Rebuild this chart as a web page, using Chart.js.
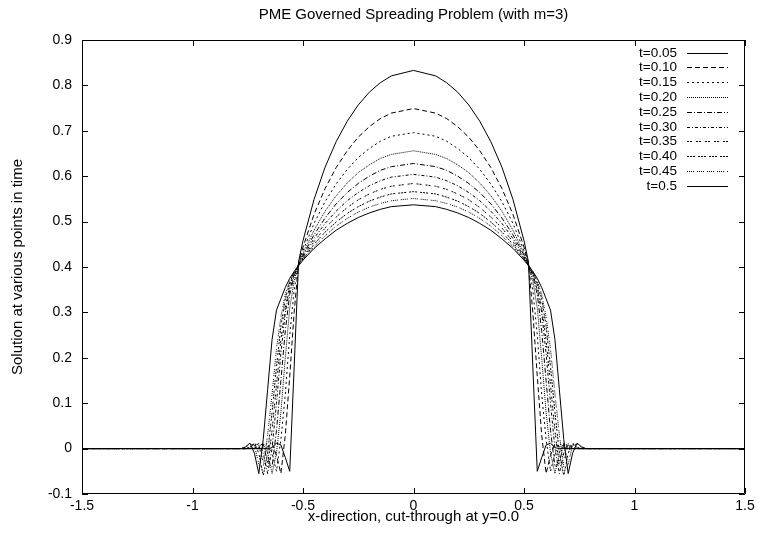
<!DOCTYPE html>
<html>
<head>
<meta charset="utf-8">
<script src="https://cdn.jsdelivr.net/npm/chart.js@4.4.1/dist/chart.umd.min.js"></script>
<style>
    html, body { margin: 0; padding: 0; background: #fff; }
</style>
</head>
<body>
<canvas id="chart" width="760" height="534"></canvas>
<script>
// PME spreading problem (m=3): cross-sections at y=0.0 for ten times.

const xs = [-1.5, -0.8, -0.78, -0.76, -0.74, -0.72, -0.7, -0.68, -0.66, -0.64, -0.62, -0.6, -0.58, -0.56, -0.54, -0.52, -0.5,
    -0.45, -0.4, -0.35, -0.3, -0.25, -0.2, -0.15, -0.1, 0, 0.1, 0.15, 0.2, 0.25, 0.3, 0.35, 0.4, 0.45,
    0.5, 0.52, 0.54, 0.56, 0.58, 0.6, 0.62, 0.64, 0.66, 0.68, 0.7, 0.72, 0.74, 0.76, 0.78, 0.8, 1.5];

const t005 = [0, 0, 0, 0, 0, 0, 0, 0, 0, 0.002, 0.012, 0.008, -0.02, -0.05, 0.18, 0.412, 0.458,
    0.549, 0.62, 0.676, 0.721, 0.757, 0.785, 0.806, 0.821, 0.833, 0.821, 0.806, 0.785, 0.757, 0.721, 0.676, 0.62, 0.549,
    0.458, 0.412, 0.18, -0.05, -0.02, 0.008, 0.012, 0.002, 0, 0, 0, 0, 0, 0, 0, 0, 0];
const t010 = [0, 0, 0, 0, 0, 0, 0, 0, 0.004, 0.012, -0.015, -0.055, 0.03, 0.16, 0.3, 0.409, 0.444,
    0.516, 0.573, 0.619, 0.656, 0.686, 0.709, 0.727, 0.739, 0.749, 0.739, 0.727, 0.709, 0.686, 0.656, 0.619, 0.573, 0.516,
    0.444, 0.409, 0.3, 0.16, 0.03, -0.055, -0.015, 0.012, 0.004, 0, 0, 0, 0, 0, 0, 0, 0];
const t015 = [0, 0, 0, 0, 0, 0, 0, 0.003, 0.012, -0.01, -0.05, 0.02, 0.12, 0.25, 0.35, 0.408, 0.436,
    0.496, 0.544, 0.583, 0.615, 0.641, 0.661, 0.677, 0.688, 0.696, 0.688, 0.677, 0.661, 0.641, 0.615, 0.583, 0.544, 0.496,
    0.436, 0.408, 0.35, 0.25, 0.12, 0.02, -0.05, -0.01, 0.012, 0.003, 0, 0, 0, 0, 0, 0, 0];
const t020 = [0, 0, 0, 0, 0, 0, 0.003, 0.012, -0.01, -0.055, -0.01, 0.08, 0.2, 0.31, 0.37, 0.406, 0.43,
    0.481, 0.523, 0.557, 0.585, 0.608, 0.625, 0.639, 0.648, 0.656, 0.648, 0.639, 0.625, 0.608, 0.585, 0.557, 0.523, 0.481,
    0.43, 0.406, 0.37, 0.31, 0.2, 0.08, -0.01, -0.055, -0.01, 0.012, 0.003, 0, 0, 0, 0, 0, 0];
const t025 = [0, 0, 0, 0, 0, 0, 0.008, 0.01, -0.03, -0.04, 0.04, 0.15, 0.26, 0.34, 0.38, 0.406, 0.426,
    0.471, 0.508, 0.539, 0.564, 0.584, 0.6, 0.613, 0.621, 0.628, 0.621, 0.613, 0.6, 0.584, 0.564, 0.539, 0.508, 0.471,
    0.426, 0.406, 0.38, 0.34, 0.26, 0.15, 0.04, -0.04, -0.03, 0.01, 0.008, 0, 0, 0, 0, 0, 0];
const t030 = [0, 0, 0, 0, 0, 0.003, 0.012, -0.01, -0.055, 0, 0.1, 0.21, 0.3, 0.35, 0.385, 0.405, 0.423,
    0.463, 0.496, 0.523, 0.546, 0.564, 0.579, 0.59, 0.598, 0.604, 0.598, 0.59, 0.579, 0.564, 0.546, 0.523, 0.496, 0.463,
    0.423, 0.405, 0.385, 0.35, 0.3, 0.21, 0.1, 0, -0.055, -0.01, 0.012, 0.003, 0, 0, 0, 0, 0];
const t035 = [0, 0, 0, 0, 0.002, 0.01, 0.008, -0.03, -0.04, 0.04, 0.14, 0.24, 0.31, 0.36, 0.385, 0.404, 0.42,
    0.456, 0.486, 0.51, 0.531, 0.548, 0.561, 0.571, 0.578, 0.584, 0.578, 0.571, 0.561, 0.548, 0.531, 0.51, 0.486, 0.456,
    0.42, 0.404, 0.385, 0.36, 0.31, 0.24, 0.14, 0.04, -0.04, -0.03, 0.008, 0.01, 0.002, 0, 0, 0, 0];
const t040 = [0, 0, 0, 0, 0.003, 0.012, -0.01, -0.06, -0.01, 0.08, 0.18, 0.27, 0.33, 0.365, 0.39, 0.404, 0.418,
    0.45, 0.477, 0.499, 0.518, 0.533, 0.545, 0.554, 0.561, 0.566, 0.561, 0.554, 0.545, 0.533, 0.518, 0.499, 0.477, 0.45,
    0.418, 0.404, 0.39, 0.365, 0.33, 0.27, 0.18, 0.08, -0.01, -0.06, -0.01, 0.012, 0.003, 0, 0, 0, 0];
const t045 = [0, 0, 0, 0.003, 0.01, 0.008, -0.035, -0.04, 0.03, 0.12, 0.22, 0.29, 0.34, 0.37, 0.39, 0.403, 0.416,
    0.445, 0.469, 0.49, 0.507, 0.521, 0.532, 0.54, 0.546, 0.551, 0.546, 0.54, 0.532, 0.521, 0.507, 0.49, 0.469, 0.445,
    0.416, 0.403, 0.39, 0.37, 0.34, 0.29, 0.22, 0.12, 0.03, -0.04, -0.035, 0.008, 0.01, 0.003, 0, 0, 0];
const t050 = [0, 0, 0, 0.004, 0.012, -0.01, -0.055, 0.02, 0.13, 0.24, 0.305, 0.33, 0.355, 0.375, 0.39, 0.403, 0.415,
    0.441, 0.462, 0.481, 0.496, 0.509, 0.519, 0.527, 0.533, 0.537, 0.533, 0.527, 0.519, 0.509, 0.496, 0.481, 0.462, 0.441,
    0.415, 0.403, 0.39, 0.375, 0.355, 0.33, 0.305, 0.24, 0.13, 0.02, -0.055, -0.01, 0.012, 0.004, 0, 0, 0];

const labels = ['t=0.05', 't=0.10', 't=0.15', 't=0.20', 't=0.25', 't=0.30', 't=0.35', 't=0.40', 't=0.45', 't=0.5'];
const series = [t005, t010, t015, t020, t025, t030, t035, t040, t045, t050];
const xTicks = [-1.5, -1, -0.5, 0, 0.5, 1, 1.5];
const yTicks = [-0.1, 0, 0.1, 0.2, 0.3, 0.4, 0.5, 0.6, 0.7, 0.8, 0.9];

// gnuplot-ish line types
const dashes = [[], [5, 3], [2, 3], [1, 1], [5, 2, 1, 2], [3, 2, 1, 2], [2, 1, 2, 4], [2, 1, 2, 1, 2, 3], [1, 1, 1, 1, 1, 1, 1, 3], []];

const FONT = '"Liberation Sans", Arial, sans-serif';
const fmt = (v) => String(Math.round(v * 10) / 10);

// border with inward tick marks on all four sides, plus a gnuplot style key
const framePlugin = {
    id: 'frame',
    afterDatasetsDraw(chart) {
        const { ctx, chartArea: a, scales } = chart;
        const T = 6;
        ctx.save();
        ctx.strokeStyle = '#000';
        ctx.lineWidth = 1;
        ctx.setLineDash([]);
        ctx.beginPath();
        ctx.rect(a.left + 0.5, a.top + 0.5, a.width - 1, a.height - 1);
        xTicks.forEach((v) => {
            const px = Math.round(scales.x.getPixelForValue(v)) + 0.5;
            ctx.moveTo(px, a.bottom);
            ctx.lineTo(px, a.bottom - T);
            ctx.moveTo(px, a.top);
            ctx.lineTo(px, a.top + T);
        });
        yTicks.forEach((v) => {
            const py = Math.round(scales.y.getPixelForValue(v)) + 0.5;
            ctx.moveTo(a.left, py);
            ctx.lineTo(a.left + T, py);
            ctx.moveTo(a.right, py);
            ctx.lineTo(a.right - T, py);
        });
        ctx.stroke();

        // key
        ctx.font = `13.5px ${FONT}`;
        ctx.fillStyle = '#000';
        ctx.textAlign = 'right';
        ctx.textBaseline = 'middle';
        chart.data.datasets.forEach((ds, i) => {
            const yy = Math.round(52.5 + i * 14.8) + 0.5;
            ctx.fillText(ds.label, 677, yy);
            ctx.setLineDash(ds.borderDash || []);
            ctx.beginPath();
            ctx.moveTo(687, yy);
            ctx.lineTo(728, yy);
            ctx.stroke();
        });
        ctx.restore();
    },
};

new Chart(document.getElementById('chart'), {
    type: 'line',
    data: {
        datasets: series.map((ys, i) => ({
            label: labels[i],
            data: ys.map((y, j) => ({ x: xs[j], y })),
            borderColor: '#000',
            borderWidth: 1,
            borderDash: dashes[i],
            pointRadius: 0,
            tension: 0,
            fill: false,
        })),
    },
    options: {
        responsive: false,
        animation: false,
        events: [],
        layout: { padding: { left: 0, right: 15, top: 0, bottom: 0 } },
        plugins: {
            legend: { display: false },
            tooltip: { enabled: false },
            title: {
                display: true,
                fullSize: false,
                text: 'PME Governed Spreading Problem (with m=3)',
                color: '#000',
                font: { family: FONT, size: 15, weight: 'normal', lineHeight: 1.2 },
                padding: { top: 6, bottom: 16 },
            },
        },
        scales: {
            x: {
                type: 'linear',
                min: -1.5,
                max: 1.5,
                afterBuildTicks: (s) => { s.ticks = xTicks.map((v) => ({ value: v })); },
                afterFit: (s) => { s.height = 40; },
                grid: { display: false, drawTicks: false },
                border: { display: false },
                ticks: { color: '#000', font: { family: FONT, size: 14 }, padding: 4, maxRotation: 0, callback: fmt },
                title: {
                    display: true,
                    text: 'x-direction, cut-through at y=0.0',
                    color: '#000',
                    font: { family: FONT, size: 15, lineHeight: 1.2 },
                    padding: { top: 0, bottom: 8 },
                },
            },
            y: {
                min: -0.1,
                max: 0.9,
                afterBuildTicks: (s) => { s.ticks = yTicks.map((v) => ({ value: v })); },
                afterFit: (s) => { s.width = 82; },
                grid: { display: false, drawTicks: false },
                border: { display: false },
                ticks: { color: '#000', font: { family: FONT, size: 14 }, padding: 10, callback: fmt },
                title: {
                    display: true,
                    text: 'Solution at various points in time',
                    color: '#000',
                    font: { family: FONT, size: 15, lineHeight: 1.2 },
                    padding: { top: 9, bottom: 0 },
                },
            },
        },
    },
    plugins: [framePlugin],
});
</script>
</body>
</html>
